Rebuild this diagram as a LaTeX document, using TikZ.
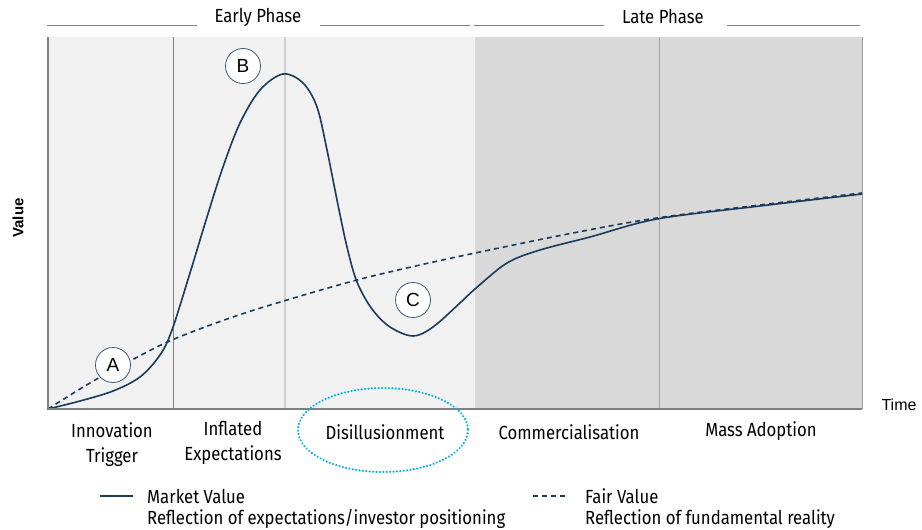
\documentclass[tikz,border=0pt]{standalone}
\usepackage{fontspec}
\setmainfont{Liberation Sans}
\newfontfamily\cond[FakeStretch=0.88]{Fira Sans}
\definecolor{navy}{HTML}{1B3A5C}
\definecolor{lightbg}{HTML}{F1F1F1}
\definecolor{darkbg}{HTML}{D9D9D9}
\definecolor{axisgray}{HTML}{7F7F7F}
\definecolor{cyanring}{HTML}{00B0F0}
\begin{document}
\begin{tikzpicture}[x=1pt,y=-1pt,
  lbl/.style={font=\cond\fontsize{19}{25}\selectfont, align=center, inner sep=0pt, text=black},
  legtxt/.style={font=\cond\fontsize{19}{20}\selectfont, anchor=west, inner sep=0pt, text=black},
  hdrline/.style={draw=axisgray, line width=0.6pt},
  mark circle/.style={circle, draw=navy!85, fill=white, line width=0.8pt, minimum size=35pt, inner sep=0pt, font=\fontsize{19}{19}\selectfont},
  market/.style={draw=navy, line width=1.6pt},
  fair/.style={draw=navy, line width=1.6pt, dash pattern=on 5pt off 4pt}]
\useasboundingbox (0,0) rectangle (922,530);
% backgrounds
\fill[lightbg] (48,37) rectangle (475,409);
\fill[darkbg] (475,37) rectangle (862,409);
% vertical separators
\draw[axisgray, line width=1pt] (173,37) -- (173,409);
\draw[black!18, line width=1.2pt] (285,37) -- (285,409);
\draw[black!35, line width=1pt] (659,37) -- (659,409);
% header
\node[lbl] (early) at (258,17) {Early Phase};
\node[lbl] (late) at (663,17) {Late Phase};
\draw[hdrline] (47,25) -- (197,25);
\draw[hdrline] (320,25) -- (470,25);
\draw[hdrline] (474,25) -- (604,25);
\draw[hdrline] (727,25) -- (860,25);
% fair value
\draw[fair] plot[smooth, tension=0.6] coordinates {(48,409) (90,383) (130,361) (172,340) (230,318) (287,300) (357,280) (420,265) (480,252) (573,233) (657,218) (760,205) (862,193)};
% market value
\draw[market] plot[smooth, tension=0.55] coordinates {(48,409) (80,401) (113,391) (140,377) (160,355) (172,330) (190,273) (207,217) (223,167) (240,123) (260,90) (283,74) (303,83) (317,107) (327,150) (337,200) (347,247) (357,282) (372,309) (390,327) (413,336) (433,327) (460,303) (475,289) (507,263) (540,250) (590,237) (657,219) (760,206) (862,194)};
% axes
\draw[axisgray, line width=1.2pt] (48,37) -- (48,409) -- (862,409);
\draw[black!40, line width=1pt] (862,37) -- (862,409);
% markers
\node[mark circle] (A) at (113,365) {A};
\node[mark circle] (B) at (243,66) {B};
\node[mark circle] (C) at (413,300) {C};
% axis labels
\node[font=\bfseries\fontsize{15}{15}\selectfont, rotate=90] (value) at (18,218) {Value};
\node[font=\fontsize{16}{16}\selectfont] (time) at (899,405) {Time};
% phase labels
\node[lbl] (innov) at (112,445) {Innovation\\Trigger};
\node[lbl] (infl) at (233,443) {Inflated\\Expectations};
\node[lbl] (dis) at (385,432) {Disillusionment};
\node[lbl] (comm) at (569,432) {Commercialisation};
\node[lbl] (mass) at (761,431) {Mass Adoption};
% highlight ellipse
\draw[cyanring, line width=2.4pt, dash pattern=on 0.01pt off 3.4pt, line cap=round] (383,430) ellipse [x radius=85, y radius=42];
% legend
\coordinate (m1) at (100,496);
\coordinate (m2) at (133,496);
\draw[market] (m1) -- (m2);
\node[legtxt] (mv) at (147,496) {Market Value};
\node[legtxt] (mvd) at (147,519) {Reflection of expectations/investor positioning};
\coordinate (f1) at (533,496);
\coordinate (f2) at (568,496);
\draw[fair] (f1) -- (f2);
\node[legtxt] (fv) at (585,496) {Fair Value};
\node[legtxt] (fvd) at (585,519) {Reflection of fundamental reality};
\end{tikzpicture}
\end{document}
